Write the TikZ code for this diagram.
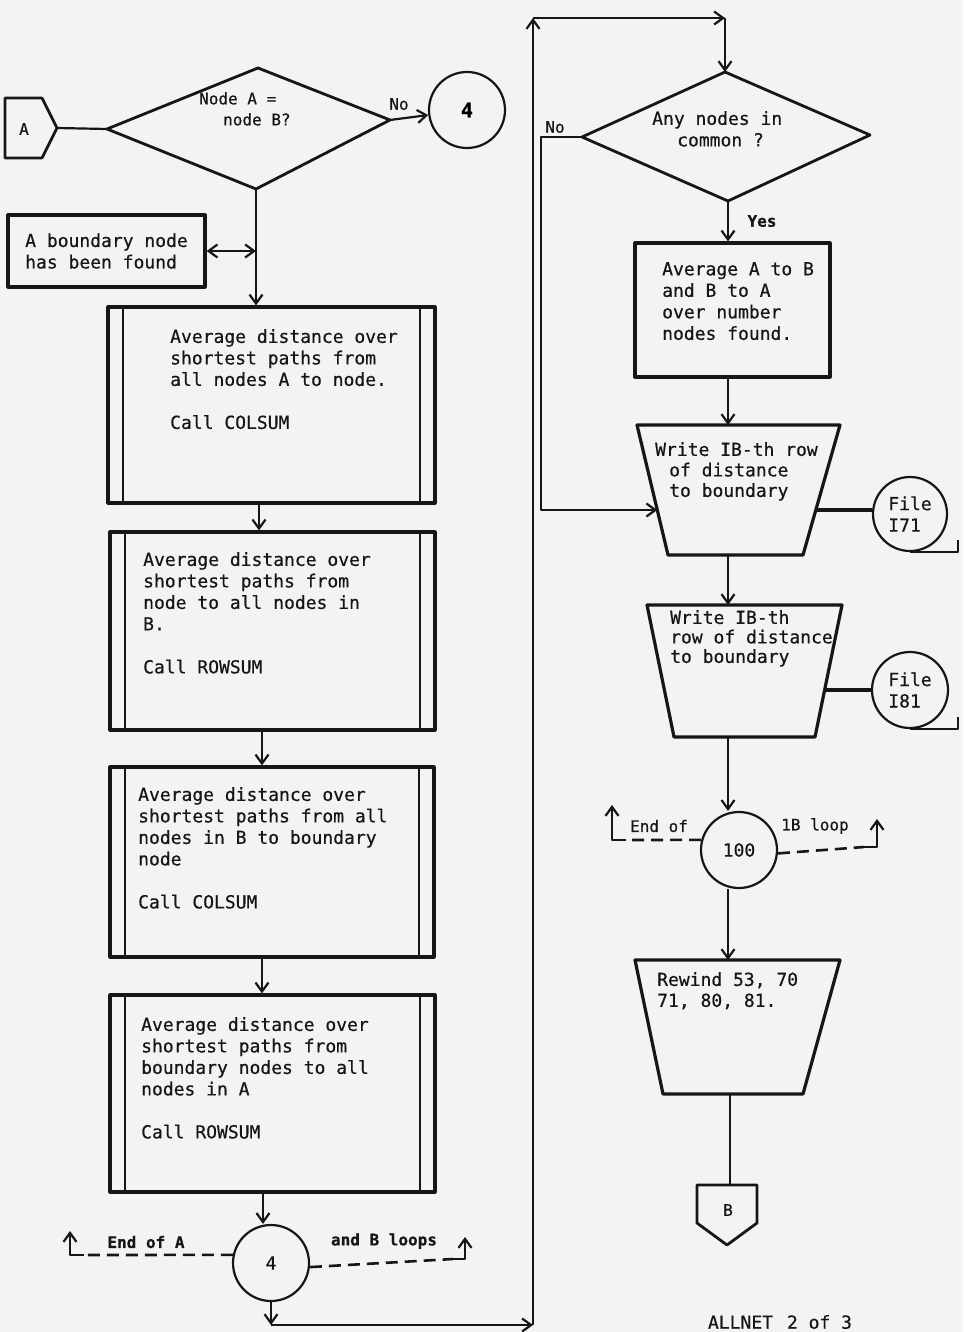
\documentclass[tikz,border=0pt]{standalone}
\usepackage{fontspec}
\setmonofont[FakeBold=0.5]{DejaVu Sans Mono}
\usetikzlibrary{arrows.meta,calc}
\definecolor{paper}{RGB}{243,243,241}
\definecolor{ink}{RGB}{22,22,22}
\begin{document}
\begin{tikzpicture}[x=1pt,y=-1pt,line join=round,
  mono/.style={font=\ttfamily\fontsize{18}{21.5}\selectfont,text=ink},
  txt/.style={mono,anchor=north west,inner sep=0pt,align=left},
  lab/.style={font=\ttfamily\fontsize{16}{19}\selectfont,text=ink,inner sep=0pt},
  labbf/.style={font=\ttfamily\bfseries\fontsize{16}{19}\selectfont,text=ink,inner sep=0pt},
  heavyline/.style={draw=ink,line width=3.2pt},
  outline/.style={draw=ink,line width=2.8pt},
  wire/.style={draw=ink,line width=2.2pt},
  arr/.style={wire,-{Straight Barb[length=9pt,width=13pt]}},
  biarr/.style={wire,{Straight Barb[length=9pt,width=13pt]}-{Straight Barb[length=9pt,width=13pt]}},
  loopdash/.style={draw=ink,line width=2.6pt,dash pattern=on 12pt off 7pt},
  procbox/.style={heavyline,rectangle,inner sep=0pt,
    path picture={\draw[draw=ink,line width=2.6pt]
      ([xshift=15pt]path picture bounding box.north west) -- ([xshift=15pt]path picture bounding box.south west)
      ([xshift=-15pt]path picture bounding box.north east) -- ([xshift=-15pt]path picture bounding box.south east);}},
  ring/.style={circle,wire,inner sep=0pt,minimum size=76pt},
]
\fill[paper] (0,0) rectangle (963,1332);
\useasboundingbox (0,0) rectangle (963,1332);

% ---------------- left column ----------------
% off-page entry A
\coordinate (Atip) at (57,128);
\draw[outline] (5,98) -- (42,98) -- (Atip) -- (42,158) -- (5,158) -- cycle;
\node[mono,font=\ttfamily\fontsize{16}{16}\selectfont] (Alab) at (24,129) {A};

% decision: Node A = node B?
\coordinate (d1w) at (107,129);
\coordinate (d1n) at (258,68);
\coordinate (d1e) at (390,120);
\coordinate (d1s) at (256,189);
\draw[outline] (d1w) -- (d1n) -- (d1e) -- (d1s) -- cycle;
\node[txt,font=\ttfamily\fontsize{16}{21}\selectfont] (d1t) at (199,92) {Node A =\\\hspace*{24pt}node B?};
\draw[wire] (Atip) -- (d1w);

\node[ring,font=\ttfamily\bfseries\fontsize{20}{20}\selectfont] (c4a) at (467,110) {4};
\draw[arr] (d1e) -- (c4a);
\node[lab] (no1) at (399,104) {No};

% boundary node found
\node[heavyline,rectangle,minimum width=197pt,minimum height=72pt,mono,align=left] (found) at (106.5,251) {A boundary node\\has been found};

% predefined processes
\node[procbox,minimum width=327pt,minimum height=196pt] (b1) at (271.5,405) {};
\node[txt] (b1t) at (170,329) {Average distance over\\shortest paths from\\all nodes A to node.\\[21.5pt]Call COLSUM};

\node[procbox,minimum width=325pt,minimum height=198pt] (b2) at (272.5,631) {};
\node[txt] (b2t) at (143,552) {Average distance over\\shortest paths from\\node to all nodes in\\B.\\[21.5pt]Call ROWSUM};

\node[procbox,minimum width=324pt,minimum height=190pt] (b3) at (272,862) {};
\node[txt] (b3t) at (138,787) {Average distance over\\shortest paths from all\\nodes in B to boundary\\node\\[21.5pt]Call COLSUM};

\node[procbox,minimum width=325pt,minimum height=197pt] (b4) at (272.5,1093.5) {};
\node[txt] (b4t) at (141,1017) {Average distance over\\shortest paths from\\boundary nodes to all\\nodes in A\\[21.5pt]Call ROWSUM};

\draw[arr] (d1s) -- (d1s |- b1.north);
\draw[biarr] (found.east) -- (found.east -| d1s);
\draw[arr] ([xshift=-12.5pt]b1.south) -- ([xshift=-12.5pt]b1.south |- b2.north);
\draw[arr] ([xshift=-10.5pt]b2.south) -- ([xshift=-10.5pt]b2.south |- b3.north);
\draw[arr] ([xshift=-10pt]b3.south) -- ([xshift=-10pt]b3.south |- b4.north);

% end of A and B loops
\node[ring,mono] (c4b) at (271,1263) {4};
\draw[arr] ([xshift=-9.5pt]b4.south) -- ([xshift=-9.5pt]b4.south |- c4b.north);

\coordinate (hAc) at (84,1255);
\coordinate (hAb) at (70,1255);
\coordinate (hAt) at (70,1231);
\draw[loopdash] (c4b.168) -- (hAc);
\draw[arr] (hAc) -- (hAb) -- (hAt);
\node[labbf] (endA) at (146,1242) {End of A};

\coordinate (hBc) at (453,1259);
\coordinate (hBb) at (465,1259);
\coordinate (hBt) at (465,1237);
\draw[loopdash] (c4b.354) -- (hBc);
\draw[arr] (hBc) -- (hBb) -- (hBt);
\node[labbf] (andB) at (384,1241) {and B loops};

% return path round to the top of the right column
\coordinate (lb) at (271,1325);
\coordinate (rb) at (533,1325);
\coordinate (rt) at (533,18);
\coordinate (tt) at (725,18);
\draw[arr] (c4b.south) -- (lb);
\draw[arr] (lb) -- (rb);
\draw[arr] (rb) -- (rt);
\draw[arr] (rt) -- (tt);

% ---------------- right column ----------------
% decision: Any nodes in common ?
\coordinate (d2w) at (582,137);
\coordinate (d2n) at (725,72);
\coordinate (d2e) at (870,135);
\coordinate (d2s) at (728,201);
\draw[outline] (d2w) -- (d2n) -- (d2e) -- (d2s) -- cycle;
\draw[arr] (tt) -- (d2n);
\node[txt] (d2t) at (652,111) {Any nodes in\\\hspace*{25pt}common ?};
\node[lab] (no2) at (555,127) {No};
\node[labbf] (yes) at (762,221) {Yes};

\node[heavyline,rectangle,minimum width=195pt,minimum height=134pt] (avg) at (732.5,310) {};
\node[txt] (avgt) at (662,262) {Average A to B\\and B to A\\over number\\nodes found.};
\draw[arr] (d2s) -- (d2s |- avg.north);

% first output: file I71
\coordinate (t1a) at (637,425);
\coordinate (t1b) at (840,425);
\coordinate (t1c) at (803,555);
\coordinate (t1d) at (668,555);
\draw[heavyline] (t1a) -- (t1b) -- (t1c) -- (t1d) -- cycle;
\coordinate (t1n) at (728,425);
\coordinate (t1s) at (728,555);
\coordinate (t1w) at ($(t1a)!0.654!(t1d)$);
\coordinate (t1e) at ($(t1b)!0.654!(t1c)$);
\draw[arr] (avg.south -| t1n) -- (t1n);
\node[txt,font=\ttfamily\fontsize{18}{20.5}\selectfont] (t1t) at (655,442) {Write IB-th row\\\hspace*{14pt}of distance\\\hspace*{14pt}to boundary};
\draw[arr] (d2w) -- ++(-41,0) |- (t1w);

\node[ring,mono,align=left,minimum size=74pt] (f71) at (910,514) {File\\I71};
\draw[heavyline] (t1e) -- (t1e -| f71.west);
\draw[wire] (f71.south) -- ++(48,0) -- ++(0,-12);

% second output: file I81
\coordinate (t2a) at (647,605);
\coordinate (t2b) at (842,605);
\coordinate (t2c) at (815,737);
\coordinate (t2d) at (674,737);
\draw[heavyline] (t2a) -- (t2b) -- (t2c) -- (t2d) -- cycle;
\coordinate (t2n) at (728,605);
\coordinate (t2s) at (728,737);
\coordinate (t2e) at ($(t2b)!0.644!(t2c)$);
\draw[arr] (t1s) -- (t2n);
\node[txt,font=\ttfamily\fontsize{18}{19.5}\selectfont] (t2t) at (670,610) {Write IB-th\\row of distance\\to boundary};

\node[ring,mono,align=left] (f81) at (910,690) {File\\I81};
\draw[heavyline] (t2e) -- (t2e -| f81.west);
\draw[wire] (f81.south) -- ++(48,0) -- ++(0,-12);

% end of IB loop
\node[ring,mono] (c100) at (739,850) {100};
\draw[arr] (t2s) -- (t2s |- c100.north);

\coordinate (hLc) at (626,840);
\coordinate (hLb) at (612,840);
\coordinate (hLt) at (612,805);
\draw[loopdash] (c100.165) -- (hLc);
\draw[arr] (hLc) -- (hLb) -- (hLt);
\node[lab] (endof) at (659,826) {End of};

\coordinate (hRc) at (864,847);
\coordinate (hRb) at (877,847);
\coordinate (hRt) at (877,819);
\draw[loopdash] (c100.355) -- (hRc);
\draw[arr] (hRc) -- (hRb) -- (hRt);
\node[lab] (ibloop) at (815,826) {1B loop};

% rewind
\coordinate (t3a) at (635,960);
\coordinate (t3b) at (840,960);
\coordinate (t3c) at (803,1094);
\coordinate (t3d) at (663,1094);
\draw[heavyline] (t3a) -- (t3b) -- (t3c) -- (t3d) -- cycle;
\coordinate (t3n) at (728,960);
\coordinate (t3s) at (730,1094);
\draw[arr] (c100.south -| t3n) -- (t3n);
\node[txt,font=\ttfamily\fontsize{18}{21}\selectfont] (t3t) at (657,972) {Rewind 53, 70\\71, 80, 81.};

% off-page exit B
\coordinate (Btop) at (730,1185);
\draw[outline] (697,1185) -- (757,1185) -- (757,1223) -- (727,1245) -- (697,1223) -- cycle;
\node[mono,font=\ttfamily\fontsize{16}{16}\selectfont] (Blab) at (728,1210) {B};
\draw[wire] (t3s) -- (Btop);

\node[mono] (pg) at (780,1322) {ALLNET\hspace{14pt}2 of 3};
\end{tikzpicture}
\end{document}
